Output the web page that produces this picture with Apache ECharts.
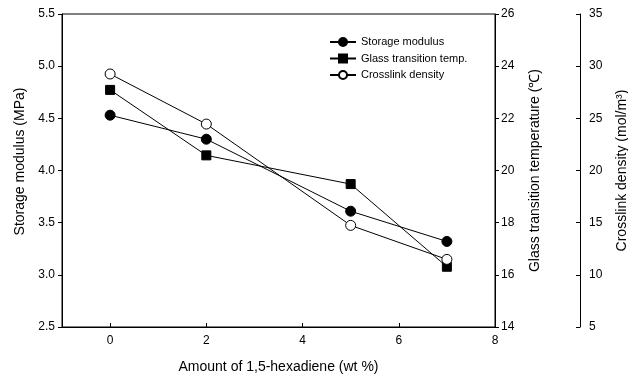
<!DOCTYPE html>
<html>
<head>
<meta charset="utf-8">
<script src="https://cdn.jsdelivr.net/npm/echarts@6/dist/echarts.min.js"></script>
<style>html,body{margin:0;padding:0;background:#fff;}#c{width:628px;height:380px;}</style>
</head>
<body>
<div id="c"></div>
<script>
var xValues = [0, 2, 5, 7];
var storageModulus = [4.53, 4.30, 3.61, 3.32];
var glassTransition = [23.09, 20.58, 19.48, 16.31];
var crosslinkDensity = [29.25, 24.45, 14.74, 11.48];
var xTicks = [0, 2, 4, 6, 8];
var seriesNames = ['Storage modulus', 'Glass transition temp.', 'Crosslink density'];

var FONT = 'Liberation Sans, Arial, sans-serif';
function pairs(ys) { return xValues.map(function (x, i) { return [x, ys[i]]; }); }

var chart = echarts.init(document.getElementById('c'), null, {renderer: 'canvas'});
var axisBase = {
  splitLine: {show: false},
  nameLocation: 'middle',
  nameRotate: 90
};
function line() { return {show: true, onZero: false, lineStyle: {color: '#000', width: 1}}; }
chart.setOption({
  animation: false,
  backgroundColor: '#fff',
  grid: {left: 62, right: 133, top: 14, bottom: 53, show: true, borderColor: '#000', borderWidth: 1,
         containLabel: false, outerBoundsMode: 'none'},
  legend: {
    orient: 'vertical', left: 324, top: 31, itemWidth: 26, itemHeight: 10, itemGap: 4.5,
    textStyle: {color: '#000', fontFamily: FONT, fontSize: 11, lineHeight: 12},
    data: seriesNames
  },
  xAxis: {
    type: 'value', min: -1, max: 8,
    name: 'Amount of 1,5-hexadiene (wt %)', nameLocation: 'middle', nameGap: 33,
    nameTextStyle: {color: '#000', fontFamily: FONT, fontSize: 14},
    axisLine: line(),
    axisTick: {show: true, inside: true, length: 4, customValues: xTicks, lineStyle: {color: '#000'}},
    axisLabel: {color: '#000', fontFamily: FONT, fontSize: 12, margin: 8, customValues: xTicks},
    splitLine: {show: false}
  },
  yAxis: [
    Object.assign({}, axisBase, {
      type: 'value', position: 'left', min: 2.5, max: 5.5, interval: 0.5,
      name: 'Storage modulus (MPa)', nameGap: 33,
      nameTextStyle: {color: '#000', fontFamily: FONT, fontSize: 14, padding: [0, 0, 0, 18]},
      axisLine: line(),
      axisTick: {show: true, inside: false, length: 4, lineStyle: {color: '#000'}},
      axisLabel: {color: '#000', fontFamily: FONT, fontSize: 12, margin: 7, formatter: function (v) { return v.toFixed(1); }}
    }),
    Object.assign({}, axisBase, {
      type: 'value', position: 'right', min: 14, max: 26, interval: 2,
      name: 'Glass transition temperature (\u2103)', nameGap: 33,
      nameTextStyle: {color: '#000', fontFamily: FONT, fontSize: 14},
      axisLine: line(),
      axisTick: {show: true, inside: false, length: 4, lineStyle: {color: '#000'}},
      axisLabel: {color: '#000', fontFamily: FONT, fontSize: 12, margin: 6}
    }),
    Object.assign({}, axisBase, {
      type: 'value', position: 'right', offset: 85, min: 5, max: 35, interval: 5,
      name: 'Crosslink density (mol/m\u00b3)', nameGap: 35,
      nameTextStyle: {color: '#000', fontFamily: FONT, fontSize: 14},
      axisLine: line(),
      axisTick: {show: true, inside: true, length: 4, lineStyle: {color: '#000'}},
      axisLabel: {color: '#000', fontFamily: FONT, fontSize: 12, margin: 9}
    })
  ],
  series: [
    {name: seriesNames[0], type: 'line', yAxisIndex: 0, data: pairs(storageModulus),
     symbol: 'circle', symbolSize: 10, lineStyle: {color: '#000', width: 1},
     itemStyle: {color: '#000', borderColor: '#000', borderWidth: 1}},
    {name: seriesNames[1], type: 'line', yAxisIndex: 1, data: pairs(glassTransition),
     symbol: 'rect', symbolSize: 9, lineStyle: {color: '#000', width: 1},
     itemStyle: {color: '#000', borderColor: '#000', borderWidth: 1}},
    {name: seriesNames[2], type: 'line', yAxisIndex: 2, data: pairs(crosslinkDensity),
     symbol: 'circle', symbolSize: 10, showAllSymbol: true, lineStyle: {color: '#000', width: 1},
     itemStyle: {color: '#fff', borderColor: '#000', borderWidth: 1}}
  ]
});
</script>
</body>
</html>
